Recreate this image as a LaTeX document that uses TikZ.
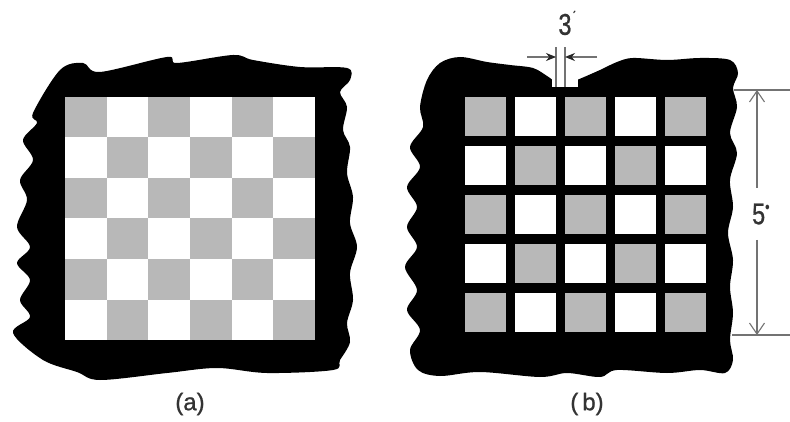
\documentclass[tikz,border=0pt]{standalone}
\usepackage{fontspec}
\setmainfont{Liberation Sans}
\newfontfamily\labelfont[FakeBold=0.9]{Liberation Sans}
\usetikzlibrary{arrows.meta}
\definecolor{halftone}{rgb}{0.72,0.72,0.72}
\definecolor{ink}{rgb}{0.2,0.2,0.2}
\definecolor{dimgray}{rgb}{0.45,0.45,0.45}
\tikzset{
  blob/.style={fill=black, draw=none},
  graycell/.style={fill=halftone, draw=none},
  whitecell/.style={fill=white, draw=none},
  dimline/.style={draw=dimgray, line width=1.1pt},
  smallarrow/.style={draw=dimgray, line width=1.1pt, -{Stealth[length=10pt,width=8pt,black!85]}},
  openarrow/.style={draw=dimgray, line width=1.1pt, -{Straight Barb[length=11pt,width=15pt]}},
  caption/.style={text=ink, font=\labelfont\fontsize{24}{24}\selectfont, inner sep=0pt},
  dimlabel/.style={text=ink, font=\labelfont\fontsize{30}{30}\selectfont, inner sep=0pt, xscale=0.78}
}
\begin{document}
\begin{tikzpicture}[x=1pt,y=-1pt]
\useasboundingbox (0,0) rectangle (790,422);
\fill[white] (0,0) rectangle (790,422);

% ---------- panel (a) ----------
\fill[blob] plot[smooth cycle, tension=0.55] coordinates {
 (33,113) (60,70) (83,63) (100,72) (167,57) (177,63) (233,55) (253,60) (300,67) (347,68) (350,80)
 (340,92) (347,107) (343,130) (350,147) (347,173) (353,197) (350,223) (357,247) (350,273)
 (353,300) (347,323) (350,342) (340,360)
 (333,370) (267,373) (217,368) (167,373) (100,380) (77,372) (43,360)
 (13,333) (30,317) (20,300) (30,280) (17,263) (30,247) (17,227) (27,200) (20,180) (33,160)
 (23,140) (37,123)};
\fill[white] (65,97) rectangle (315,340);
\foreach \i in {0,...,5}{
  \foreach \j in {0,...,5}{
    \pgfmathtruncatemacro{\parity}{mod(\i+\j,2)}
    \ifnum\parity=0
      \fill[graycell] ({65+\i*250/6},{97+\j*243/6}) rectangle ++(250/6,243/6);
    \fi
  }
}
\node[caption] (capa) at (190,404) {(a)};

% ---------- panel (b) ----------
\fill[blob] plot[smooth cycle, tension=0.55] coordinates {
 (427,80) (440,63) (460,57) (487,62) (510,65) (533,68) (547,76) (556,82)
 (565,84) (577,80) (600,70) (617,62) (633,58) (667,60) (700,58) (730,60) (738,73) (733,88)
 (737,107) (730,133) (737,153) (730,180) (733,207) (728,233) (733,260) (730,287) (733,313)
 (730,340) (733,360) (725,373)
 (700,370) (667,373) (617,370) (600,377) (567,373) (540,377) (480,372) (440,376) (418,370)
 (410,350) (420,330) (407,310) (417,290) (405,267) (417,247) (407,227) (417,207) (407,187)
 (420,167) (410,147) (423,127) (420,107)};
% notch in the top edge
\fill[white] (552,40) rectangle (578,87);
\foreach \i in {0,...,4}{
  \foreach \j in {0,...,4}{
    \pgfmathtruncatemacro{\parity}{mod(\i+\j,2)}
    \ifnum\parity=0
      \fill[graycell] ({465+\i*50},{97+\j*49}) rectangle ++(41,39);
    \else
      \fill[whitecell] ({465+\i*50},{97+\j*49}) rectangle ++(41,39);
    \fi
  }
}

% ---- 3' dimension ----
\coordinate (gL) at (556,87);
\coordinate (gLt) at (556,47);
\coordinate (gR) at (565,87);
\coordinate (gRt) at (565,47);
\draw[dimline] (gL) -- (gLt);
\draw[dimline] (gR) -- (gRt);
\coordinate (aLs) at (527,57);
\coordinate (aLe) at (556,57);
\coordinate (aRs) at (597,57);
\coordinate (aRe) at (565,57);
\draw[smallarrow] (aLs) -- (aLe);
\draw[smallarrow] (aRs) -- (aRe);
\node[dimlabel] (lab3) at (567,23) {3\raisebox{0.35em}{\fontsize{15}{15}\selectfont\kern1pt\'{}}};

% ---- 5" dimension ----
\coordinate (eT1) at (734,90);
\coordinate (eT2) at (790,90);
\coordinate (eB1) at (732,335);
\coordinate (eB2) at (790,335);
\draw[dimline] (eT1) -- (eT2);
\draw[dimline] (eB1) -- (eB2);
\coordinate (vT) at (757,90);
\coordinate (vB) at (757,335);
\node[dimlabel] (lab5) at (761,214) {5\raisebox{0.45em}{\fontsize{12}{12}\selectfont$\bullet$}};
\coordinate (vTs) at (757,188);
\coordinate (vBs) at (757,240);
\draw[openarrow] (vTs) -- (vT);
\draw[openarrow] (vBs) -- (vB);

\node[caption] (capb) at (587,404) {(\,b)};
\end{tikzpicture}
\end{document}
